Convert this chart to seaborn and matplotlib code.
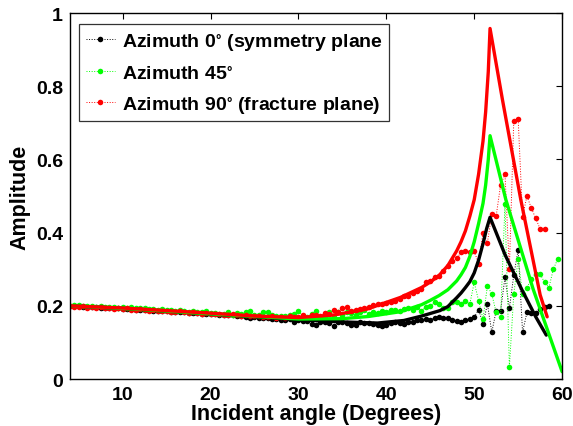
import numpy as np
import pandas as pd
import matplotlib
matplotlib.use("Agg")
import matplotlib.pyplot as plt
import seaborn as sns

# incident angle grid of the measured points (deg)
angles = np.arange(4, 60, 0.5)

# measured amplitudes, blocks of 4-9.5 / 10-19.5 / 20-29.5 / 30-39.5 / 40-49.5 / 50-...
az0_data = [
    0.200, 0.199, 0.199, 0.198, 0.197, 0.197, 0.196, 0.195, 0.195, 0.194, 0.193, 0.193,
    0.192, 0.192, 0.191, 0.190, 0.190, 0.189, 0.188, 0.187, 0.187, 0.186,
    0.185, 0.184, 0.184, 0.183, 0.182, 0.181, 0.181, 0.180, 0.179, 0.178,
    0.178, 0.177, 0.176, 0.176, 0.175, 0.174, 0.172, 0.171, 0.170, 0.166,
    0.169, 0.168, 0.167, 0.166, 0.163, 0.165, 0.162, 0.161, 0.163, 0.155,
    0.160, 0.159, 0.158, 0.150, 0.149, 0.157, 0.156, 0.152, 0.144, 0.155,
    0.156, 0.154, 0.148, 0.147, 0.155, 0.154, 0.153, 0.150, 0.148, 0.146,
    0.148, 0.154, 0.156, 0.153, 0.150, 0.155, 0.157, 0.160, 0.162, 0.165,
    0.162, 0.168, 0.170, 0.168, 0.166, 0.160, 0.158, 0.155, 0.160, 0.165,
    0.169, 0.190, 0.150, 0.205, 0.128, 0.187, 0.187, 0.278, 0.193, 0.284,
    0.353, 0.128, 0.182, 0.180, 0.180, 0.191, 0.196, 0.200,
]
az45_data = [
    0.200, 0.201, 0.202, 0.200, 0.199, 0.200, 0.198, 0.199, 0.197, 0.196, 0.198, 0.195,
    0.196, 0.194, 0.196, 0.193, 0.194, 0.195, 0.192, 0.191, 0.190, 0.191,
    0.189, 0.188, 0.186, 0.189, 0.185, 0.184, 0.186, 0.183, 0.182, 0.186,
    0.180, 0.181, 0.179, 0.178, 0.182, 0.176, 0.180, 0.178, 0.184, 0.185,
    0.175, 0.174, 0.182, 0.183, 0.176, 0.172, 0.171, 0.173, 0.174, 0.177,
    0.185, 0.172, 0.170, 0.178, 0.186, 0.169, 0.172, 0.183, 0.170, 0.182,
    0.176, 0.184, 0.180, 0.174, 0.182, 0.188, 0.178, 0.183, 0.180, 0.186,
    0.184, 0.188, 0.190, 0.186, 0.192, 0.195, 0.190, 0.196, 0.187, 0.197,
    0.200, 0.210, 0.205, 0.193, 0.193, 0.210, 0.210, 0.205, 0.212, 0.205,
    0.264, 0.214, 0.164, 0.255, 0.232, 0.182, 0.169, 0.478, 0.032, 0.232,
    0.328, 0.232, 0.250, 0.273, 0.287, 0.287, 0.264, 0.250, 0.300, 0.328,
]
az90_data = [
    0.200, 0.198, 0.196, 0.199, 0.195, 0.197, 0.194, 0.196, 0.193, 0.195, 0.192, 0.194,
    0.191, 0.193, 0.190, 0.189, 0.191, 0.188, 0.187, 0.189, 0.186, 0.185,
    0.187, 0.184, 0.183, 0.185, 0.182, 0.181, 0.183, 0.180, 0.179, 0.181,
    0.178, 0.177, 0.179, 0.176, 0.175, 0.177, 0.174, 0.173, 0.175, 0.172,
    0.171, 0.173, 0.170, 0.169, 0.172, 0.168, 0.170, 0.167, 0.173, 0.170,
    0.170, 0.175, 0.168, 0.174, 0.176, 0.172, 0.180, 0.178, 0.190, 0.184,
    0.194, 0.196, 0.186, 0.190, 0.192, 0.195, 0.198, 0.202, 0.205, 0.205,
    0.207, 0.210, 0.214, 0.219, 0.228, 0.228, 0.235, 0.240, 0.246, 0.264,
    0.269, 0.278, 0.282, 0.296, 0.310, 0.323, 0.330, 0.346, 0.350, 0.346,
    0.350, 0.314, 0.400, 0.373, 0.450, 0.446, 0.530, 0.560, 0.300, 0.706,
    0.710, 0.444, 0.500, 0.467, 0.439, 0.410, 0.410,
]

# modelled curves (solid lines)
az0_model_x = [4, 10, 20, 30, 35, 39, 42, 44, 46.1, 47, 48, 48.5, 49, 49.5, 50, 50.5,
               51, 51.4, 51.8, 53.5, 55.4, 57, 58.2]
az0_model_y = [0.200, 0.193, 0.178, 0.162, 0.156, 0.153, 0.160, 0.172, 0.187, 0.198,
               0.222, 0.235, 0.250, 0.266, 0.290, 0.325, 0.370, 0.410, 0.442,
               0.340, 0.245, 0.170, 0.120]
az45_model_x = [4, 10, 20, 30, 35, 38, 41.6, 44, 45, 46, 47, 48, 48.5, 49, 49.5, 50,
                50.5, 51, 51.3, 51.6, 51.8, 53.6, 56.7, 60]
az45_model_y = [0.200, 0.193, 0.178, 0.164, 0.165, 0.171, 0.184, 0.203, 0.215, 0.228,
                0.244, 0.268, 0.285, 0.305, 0.335, 0.375, 0.425, 0.480, 0.530, 0.600,
                0.665, 0.490, 0.246, 0.020]
az90_model_x = [4, 10, 20, 25, 30, 34, 37.8, 41.6, 44, 45, 46, 47, 48, 48.5, 49, 49.5,
                50, 50.5, 51, 51.3, 51.6, 51.8, 53.2, 55.3, 57.5, 58.3]
az90_model_y = [0.200, 0.194, 0.180, 0.172, 0.168, 0.175, 0.191, 0.223, 0.250, 0.265,
                0.283, 0.310, 0.350, 0.375, 0.405, 0.445, 0.490, 0.560, 0.650, 0.730,
                0.840, 0.958, 0.765, 0.490, 0.230, 0.170]

labels = [r"Azimuth 0$^{\circ}$ (symmetry plane",
          r"Azimuth 45$^{\circ}$",
          r"Azimuth 90$^{\circ}$ (fracture plane)"]
colors = ["#000000", "#00ff00", "#ff0000"]

sns.set_theme(style="white")
plt.rcParams["font.family"] = ["Liberation Sans", "DejaVu Sans"]
plt.rcParams["font.weight"] = "bold"
plt.rcParams["mathtext.default"] = "regular"
plt.rcParams["text.color"] = "black"
plt.rcParams["axes.labelcolor"] = "black"

fig = plt.figure(figsize=(5.73, 4.27), dpi=100)
ax = fig.add_axes([0.122, 0.110, 0.859, 0.857])

datasets = [az0_data, az45_data, az90_data]
models = [(az0_model_x, az0_model_y), (az45_model_x, az45_model_y),
          (az90_model_x, az90_model_y)]

handles = []
for data, lab, col in zip(datasets, labels, colors):
    df = pd.DataFrame({"angle": angles[:len(data)], "amp": data})
    sns.lineplot(data=df, x="angle", y="amp", ax=ax, color=col, linestyle=":",
                 linewidth=0.7, marker="o", markersize=4, markeredgewidth=0,
                 label=lab)
    handles.append(ax.lines[-1])
for (mx, my), col in zip(models, colors):
    sns.lineplot(x=mx, y=my, ax=ax, color=col, linewidth=2.4, legend=False)

ax.set_xlim(4, 60)
ax.set_ylim(0, 1)
ax.set_xticks([10, 20, 30, 40, 50, 60])
ax.set_yticks([0, 0.2, 0.4, 0.6, 0.8, 1])
ax.set_yticklabels(["0", "0.2", "0.4", "0.6", "0.8", "1"])
ax.tick_params(direction="in", top=True, right=True, length=4, width=0.8,
               labelsize=14, pad=5, colors="black")
for lbl in ax.get_xticklabels() + ax.get_yticklabels():
    lbl.set_fontweight("bold")
for sp in ax.spines.values():
    sp.set_color("black")
    sp.set_linewidth(1.0)

ax.set_xlabel("Incident angle (Degrees)", fontsize=15.5, fontweight="bold",
              labelpad=0, color="black")
ax.set_ylabel("Amplitude", fontsize=15.5, fontweight="bold", labelpad=4,
              color="black")

leg = ax.legend(handles=handles, labels=labels, loc="upper left",
                bbox_to_anchor=(0.018, 0.970), fontsize=14, frameon=True,
                fancybox=False, edgecolor="black", handlelength=1.5, numpoints=1,
                handletextpad=0.35, borderpad=0.35, labelspacing=0.62,
                borderaxespad=0)
leg.get_frame().set_linewidth(0.9)
for t in leg.get_texts():
    t.set_fontweight("bold")
    t.set_color("black")

fig.savefig("out.png", dpi=100)
